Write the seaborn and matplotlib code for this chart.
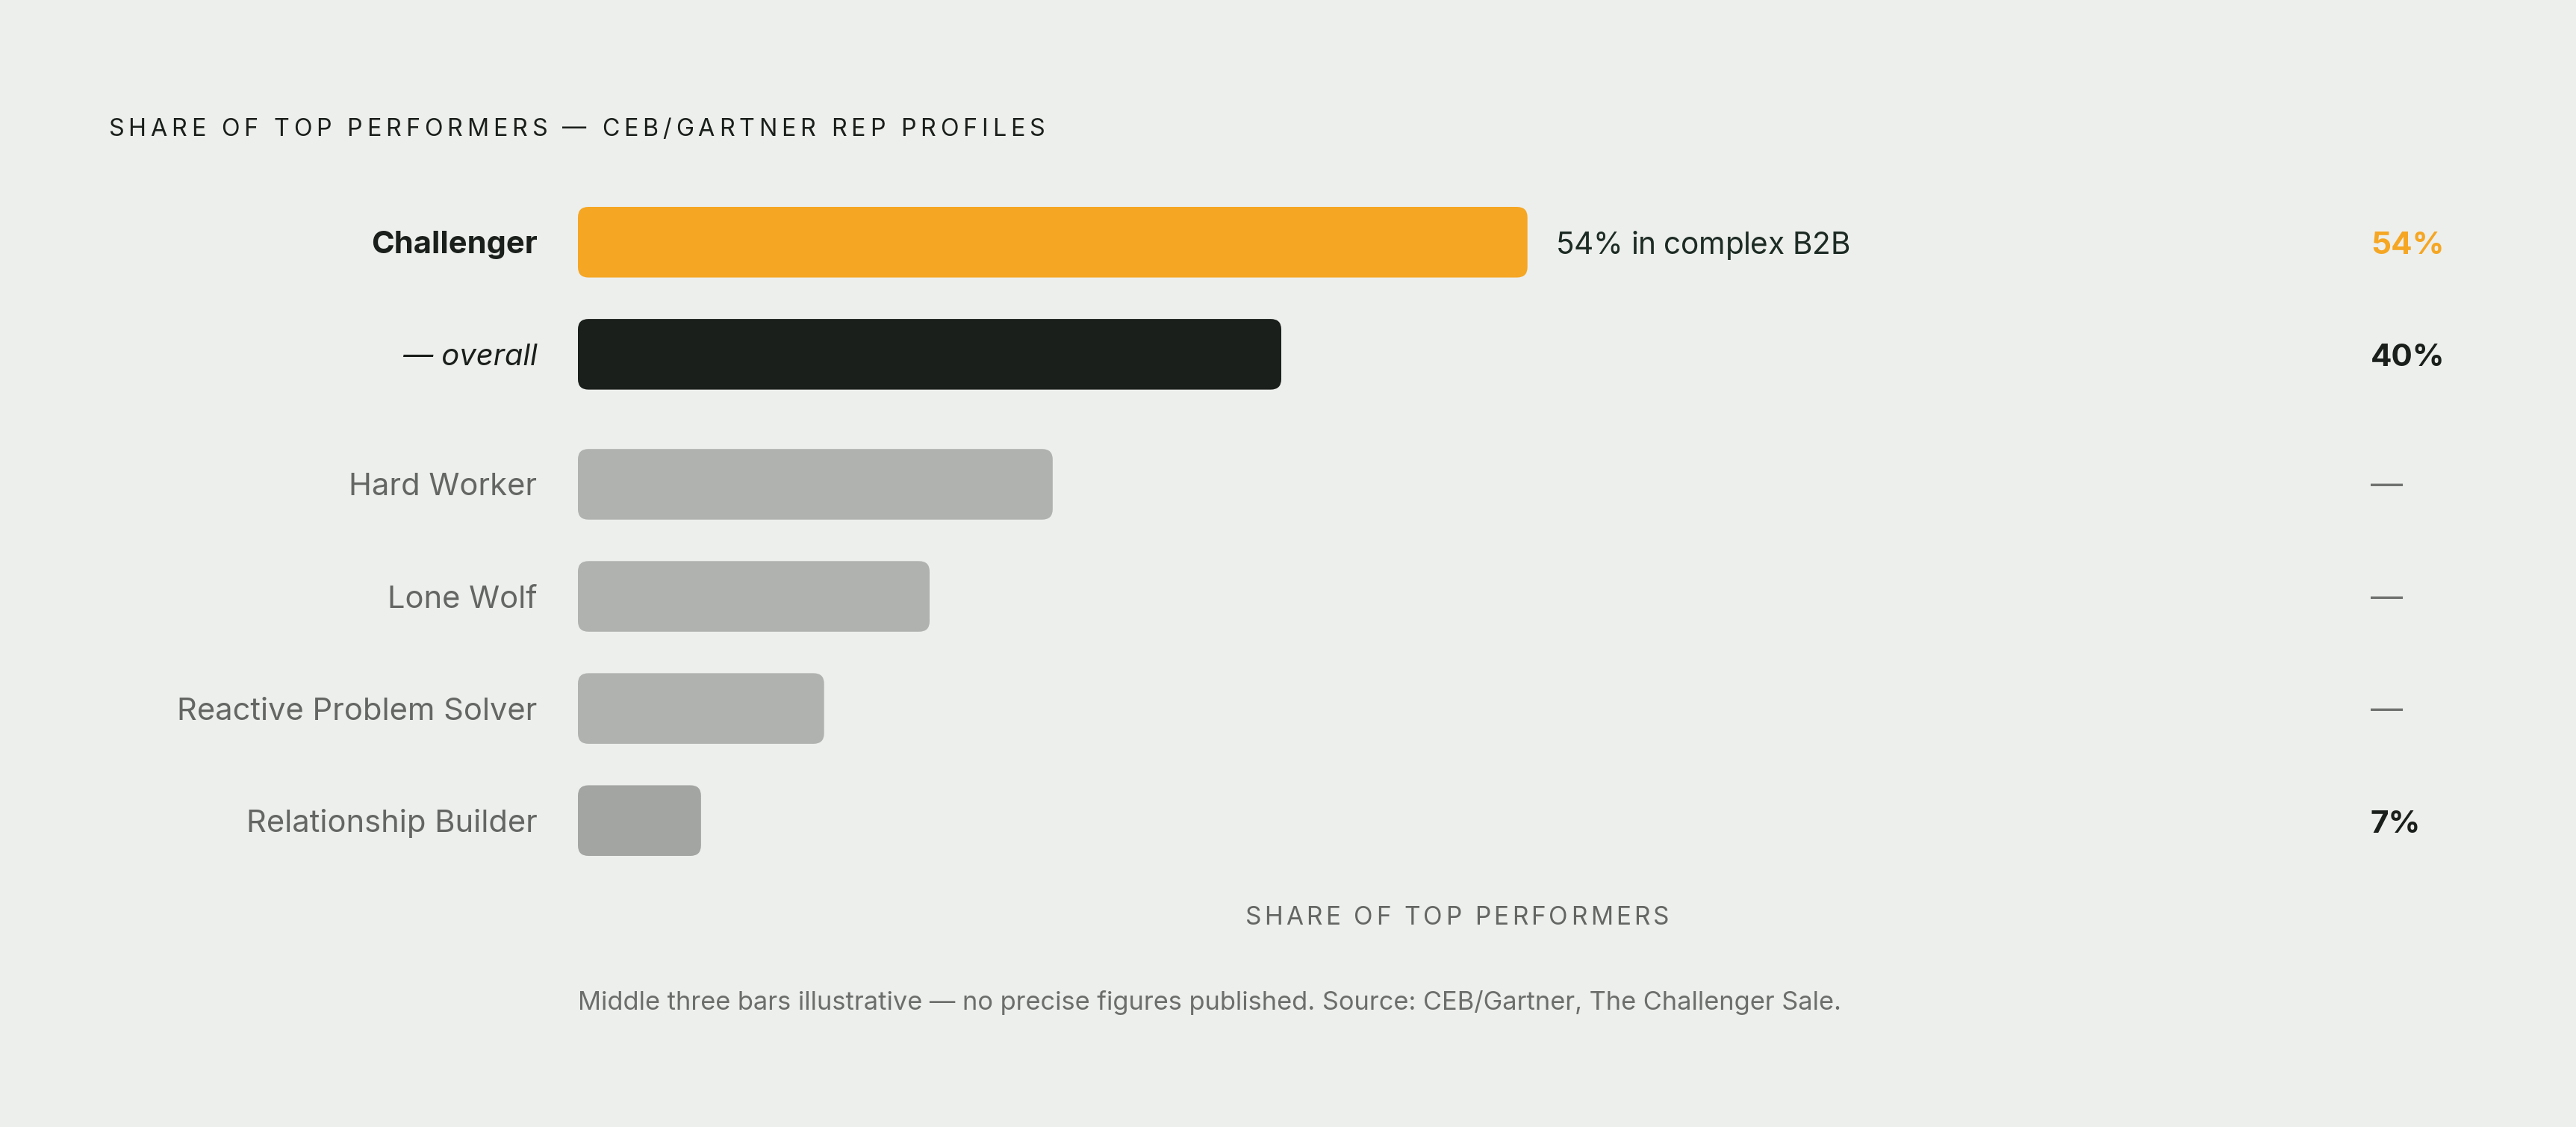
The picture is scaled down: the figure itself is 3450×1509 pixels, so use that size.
import numpy as np
import pandas as pd
import matplotlib
matplotlib.use("Agg")
import matplotlib.pyplot as plt
import seaborn as sns
from matplotlib.patches import FancyBboxPatch
from matplotlib.font_manager import FontProperties

# data
profiles = ["Challenger", "— overall", "Hard Worker", "Lone Wolf",
            "Reactive Problem Solver", "Relationship Builder"]
shares = [54, 40, 27, 20, 14, 7]
value_labels = ["54%", "40%", "—", "—", "—", "7%"]
bar_note = "54% in complex B2B"
title = "SHARE OF TOP PERFORMERS — CEB/GARTNER REP PROFILES"
x_title = "SHARE OF TOP PERFORMERS"
footnote = ("Middle three bars illustrative — no precise figures published. "
            "Source: CEB/Gartner, The Challenger Sale.")

# colours
BG = "#edefec"
ORANGE = "#f5a623"
INK = "#1b1f1c"
GREY_TXT = "#636663"
bar_colors = [ORANGE, INK, "#b0b2af", "#b0b2af", "#b0b2af", "#a3a5a2"]
value_colors = [ORANGE, INK, "#707370", "#707370", "#707370", INK]

W, H, DPI = 3450, 1509, 200
FAM = ["Inter", "DejaVu Sans"]

sns.set_theme(style="white")
plt.rcParams["font.family"] = FAM

fig = plt.figure(figsize=(W / DPI, H / DPI), dpi=DPI, facecolor=BG)
# axes spans 0..100 % horizontally, bar edges vertically
ax = fig.add_axes([774 / W, 1 - 1146 / H, 2355 / W, (1146 - 277) / H])
ax.set_facecolor(BG)

df = pd.DataFrame({"profile": profiles, "share": shares})
sns.barplot(data=df, x="share", y="profile", hue="profile", palette=bar_colors,
            width=0.63, orient="h", saturation=1, legend=False, ax=ax)

# extra gap between the two headline rows and the other profiles
row_y = np.arange(len(profiles)) + np.where(np.arange(len(profiles)) >= 2, 0.16, 0)

# swap seaborn's square bars for rounded ones
for p in list(ax.patches):
    x0, y0, w, h = p.get_x(), p.get_y(), p.get_width(), p.get_height()
    i = int(round(y0 + h / 2))
    rounded = FancyBboxPatch((x0, row_y[i] - h / 2), w, h,
                             boxstyle="round,pad=0,rounding_size=0.6",
                             mutation_aspect=0.155, facecolor=p.get_facecolor(),
                             edgecolor="none", clip_on=False)
    p.remove()
    ax.add_patch(rounded)

ax.set_xlim(0, 100)
ax.set_ylim(row_y[-1] + 0.315, -0.315)
ax.set_xticks([])
ax.set_yticks([])
ax.set_xlabel("")
ax.set_ylabel("")
sns.despine(ax=ax, left=True, bottom=True)

PT = DPI / 72.0  # px per point

# row labels left of the bars
label_styles = [dict(weight="bold", style="normal", color=INK, size=15),
                dict(weight="normal", style="italic", color=INK, size=14.4)] + \
               [dict(weight="normal", style="normal", color=GREY_TXT, size=15)] * 4
for name, y, st in zip(profiles, row_y, label_styles):
    ax.annotate(name, xy=(0, y), xycoords=("axes fraction", "data"),
                xytext=(-54.5 / PT, -15 / PT), textcoords="offset points",
                ha="right", va="baseline", fontsize=st["size"],
                fontweight=st["weight"], fontstyle=st["style"],
                color=st["color"], annotation_clip=False)

# values at the right edge
for val, y, c in zip(value_labels, row_y, value_colors):
    bold = val != "—"
    ax.annotate(val, xy=(0, y), xycoords=("axes fraction", "data"),
                xytext=((3175 - 774) / PT, (-16 if bold else -15) / PT),
                textcoords="offset points", ha="left", va="baseline",
                fontsize=15.2 if bold else 15.5,
                fontweight="bold" if bold else "normal", color=c,
                annotation_clip=False)

fig.canvas.draw()
renderer = fig.canvas.get_renderer()


def tracked(x, y, s, size, color, width=None, ha="left", weight="normal"):
    # letter-spaced text, x/y in pixels from top-left, y is the baseline
    prop = FontProperties(family=FAM, size=size, weight=weight)

    def tw(t):
        return renderer.get_text_width_height_descent(t, prop, ismath=False)[0]

    bar_w = tw("|")
    natural = tw(s)
    track = (width - natural) / (len(s) - 1) if width else 0
    total = natural + track * (len(s) - 1)
    start = x - total / 2 if ha == "center" else x
    for i, ch in enumerate(s):
        if ch == " ":
            continue
        off = tw(s[:i] + "|") - bar_w if i else 0
        fig.text((start + off + i * track) / W, 1 - y / H, ch,
                 fontproperties=prop, color=color, ha="left", va="baseline")


tracked(145, 181.5, title, 11.6, INK, width=1254)
tracked(1951.5, 1238, x_title, 12, GREY_TXT, width=568, ha="center")

# note next to the orange bar
tracked(2083.5, 340, bar_note, 14.6, "#1d2b25", width=394)

fig.text(774 / W, 1 - 1351.7 / H, footnote, fontsize=12.4, color="#6b6e6b",
         ha="left", va="baseline")

fig.savefig("out.png", dpi=DPI, facecolor=BG)
